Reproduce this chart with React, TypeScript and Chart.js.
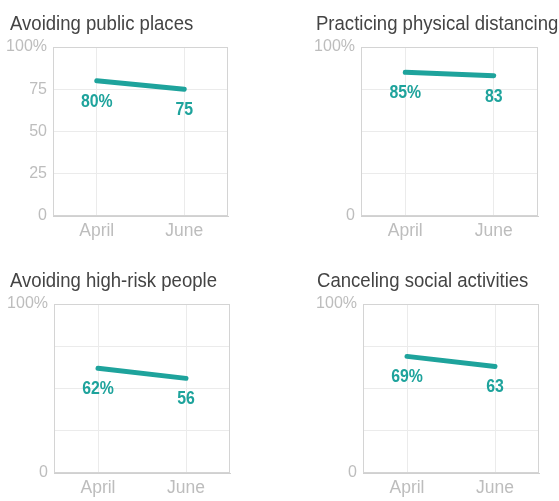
import React, { useEffect, useRef } from "react";
import { Chart, registerables } from "chart.js";

Chart.register(...registerables);

const months = ["April", "June"];
const titles = [
  "Avoiding public places",
  "Practicing physical distancing",
  "Avoiding high-risk people",
  "Canceling social activities",
];
const publicPlaces = [80, 75];
const physicalDistancing = [85, 83];
const highRiskPeople = [62, 56];
const socialActivities = [69, 63];
const seriesList = [publicPlaces, physicalDistancing, highRiskPeople, socialActivities];
const fullTickPanels = [true, false, false, false];

const FONT = "'Liberation Sans', Arial, sans-serif";
const TEAL = "#1ea39c";

type Layout = { left: number; top: number; width: number; height: number; tx: number; lp: number; yw: number; rp: number };
const layouts: Layout[] = [
  { left: 0, top: 0, width: 232, height: 244, tx: 10, lp: 4, yw: 49, rp: 4 },
  { left: 280, top: 0, width: 279, height: 244, tx: 36, lp: 30, yw: 51, rp: 21 },
  { left: 0, top: 257, width: 234, height: 244, tx: 10, lp: 4, yw: 50, rp: 4 },
  { left: 280, top: 257, width: 279, height: 244, tx: 37, lp: 31, yw: 52, rp: 20 },
];

const panelTitle = {
  id: "panelTitle",
  afterDraw(chart: any, _args: any, opts: any) {
    const { ctx } = chart;
    ctx.save();
    ctx.fillStyle = "#444444";
    ctx.font = `20.5px ${FONT}`;
    ctx.textAlign = "left";
    ctx.textBaseline = "alphabetic";
    ctx.translate(opts.x, 30);
    ctx.scale(0.905, 1);
    ctx.fillText(opts.text, 0, 0);
    ctx.restore();
  },
};

const frame = {
  id: "frame",
  beforeDatasetsDraw(chart: any) {
    const { ctx, chartArea } = chart;
    ctx.save();
    ctx.strokeStyle = "#d4d4d4";
    ctx.lineWidth = 1;
    ctx.strokeRect(
      Math.round(chartArea.left) + 0.5,
      Math.round(chartArea.top) + 0.5,
      Math.round(chartArea.right - chartArea.left) - 1,
      Math.round(chartArea.bottom - chartArea.top) - 1
    );
    ctx.restore();
  },
};

const valueLabels = {
  id: "valueLabels",
  afterDatasetsDraw(chart: any) {
    const { ctx } = chart;
    const meta = chart.getDatasetMeta(0);
    const data = chart.data.datasets[0].data as number[];
    ctx.save();
    ctx.fillStyle = TEAL;
    ctx.font = `bold 18px ${FONT}`;
    ctx.textAlign = "center";
    ctx.textBaseline = "middle";
    meta.data.forEach((el: any, i: number) => {
      const txt = i === 0 ? `${data[i]}%` : `${data[i]}`;
      ctx.save();
      ctx.translate(el.x, el.y + 21);
      ctx.scale(0.88, 1);
      ctx.fillText(txt, 0, 0);
      ctx.restore();
    });
    ctx.restore();
  },
};

function Panel({ idx }: { idx: number }) {
  const ref = useRef<HTMLCanvasElement>(null);
  const L = layouts[idx];
  useEffect(() => {
    if (!ref.current) return;
    const full = fullTickPanels[idx];
    const chart = new Chart(ref.current, {
      type: "line",
      data: {
        labels: months,
        datasets: [
          {
            data: seriesList[idx],
            borderColor: TEAL,
            borderWidth: 5,
            borderCapStyle: "round",
            pointRadius: 0,
            tension: 0,
            fill: false,
          },
        ],
      },
      options: {
        animation: false,
        responsive: false,
        devicePixelRatio: 1,
        layout: { padding: { left: L.lp, right: L.rp, top: 47, bottom: 0 } },
        plugins: {
          legend: { display: false },
          tooltip: { enabled: false },
          title: { display: false },
          panelTitle: { text: titles[idx], x: L.tx },
        } as any,
        scales: {
          x: {
            type: "category",
            offset: true,
            grid: { offset: false, color: "#ebebeb", drawTicks: false },
            border: { color: "#d0d0d0" },
            ticks: { color: "#bdbdbd", font: { family: FONT, size: 17.5 }, padding: 5 },
            afterFit: (s: any) => {
              s.height = 28;
            },
          },
          y: {
            min: 0,
            max: 100,
            grid: { color: "#ebebeb", drawTicks: false },
            border: { color: "#d0d0d0" },
            ticks: {
              stepSize: 25,
              color: "#bdbdbd",
              font: { family: FONT, size: 16 },
              padding: 6,
              callback: (v: any) => (v === 100 ? "100%" : full || v === 0 ? String(v) : ""),
            },
            afterFit: (s: any) => {
              s.width = L.yw;
            },
          },
        },
      },
      plugins: [panelTitle, frame, valueLabels],
    });
    return () => chart.destroy();
  }, [idx]);
  return (
    <canvas
      ref={ref}
      width={L.width}
      height={L.height}
      style={{ position: "absolute", left: L.left, top: L.top, width: L.width, height: L.height }}
    />
  );
}

export default function App() {
  return (
    <div style={{ position: "absolute", left: 0, top: 0, width: 559, height: 501, background: "#fff" }}>
      {[0, 1, 2, 3].map((i) => (
        <Panel key={i} idx={i} />
      ))}
    </div>
  );
}
